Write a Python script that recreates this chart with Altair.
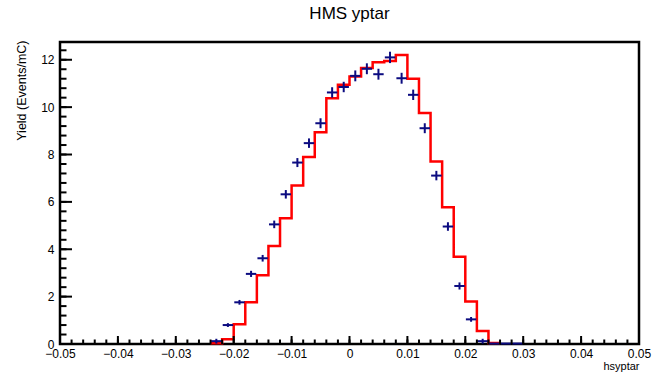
import altair as alt
import pandas as pd

# Red histogram (simulation), bins of width 0.002, left edges
red_left = [-0.024, -0.022, -0.020, -0.018, -0.016, -0.014, -0.012, -0.010, -0.008,
            -0.006, -0.004, -0.002, 0.000, 0.002, 0.004, 0.006, 0.008, 0.010,
            0.012, 0.014, 0.016, 0.018, 0.020, 0.022, 0.024]
red_vals = [0.03, 0.20, 0.83, 1.76, 2.90, 4.14, 5.31, 6.69, 7.89,
            8.94, 10.38, 10.94, 11.29, 11.65, 11.90, 11.95, 12.20, 11.20,
            9.75, 7.70, 5.77, 3.68, 1.79, 0.55, 0.04]
bin_width = 0.002

# Blue data points (bin centers)
pt_x = [-0.023, -0.021, -0.019, -0.017, -0.015, -0.013, -0.011, -0.009, -0.007,
        -0.005, -0.003, -0.001, 0.001, 0.003, 0.005, 0.007, 0.009, 0.011,
        0.013, 0.015, 0.017, 0.019, 0.021, 0.023, 0.025, 0.027, 0.029]
pt_y = [0.12, 0.80, 1.76, 2.96, 3.62, 5.05, 6.32, 7.66, 8.48,
        9.32, 10.62, 10.85, 11.32, 11.62, 11.39, 12.10, 11.22, 10.52,
        9.11, 7.11, 4.96, 2.45, 1.04, 0.12, 0.02, 0.02, 0.02]
pt_err = [0.10, 0.08, 0.10, 0.13, 0.14, 0.16, 0.18, 0.19, 0.20,
          0.21, 0.22, 0.22, 0.23, 0.23, 0.23, 0.24, 0.23, 0.22,
          0.21, 0.20, 0.18, 0.15, 0.10, 0.10, 0.02, 0.02, 0.02]
x_halfbar = 0.0009

x_major = [-0.05, -0.04, -0.03, -0.02, -0.01, 0.0, 0.01, 0.02, 0.03, 0.04, 0.05]
x_minor = [round(-0.05 + 0.002 * i, 4) for i in range(51)]
y_major = [0, 2, 4, 6, 8, 10, 12]
y_minor = [round(0.4 * i, 2) for i in range(32)]

XDOM = [-0.05, 0.05]
YDOM = [0, 12.75]
FONT = "Liberation Sans"

red_df = pd.DataFrame({
    "x": red_left + [red_left[-1] + bin_width],
    "y": red_vals + [red_vals[-1]],
})
pts_df = pd.DataFrame({"x": pt_x, "y": pt_y, "e": pt_err})
pts_df["xlo"] = pts_df["x"] - x_halfbar
pts_df["xhi"] = pts_df["x"] + x_halfbar
pts_df["ylo"] = pts_df["y"] - pts_df["e"]
pts_df["yhi"] = pts_df["y"] + pts_df["e"]

xscale = alt.Scale(domain=XDOM, nice=False, zero=False)
yscale = alt.Scale(domain=YDOM, nice=False, zero=False)

x_axis = alt.Axis(values=x_major, format="~g", ticks=False, tickSize=0, domain=False,
                  grid=False, labelFlush=False, labelOverlap=False,
                  labelFont=FONT, labelFontSize=12, labelColor="black",
                  labelPadding=4, title="hsyptar", titleFont=FONT, titleFontSize=11,
                  titleFontWeight="normal", titleColor="black", titleX=579, titleY=22,
                  titleAlign="right", titleBaseline="middle")
y_axis = alt.Axis(values=y_major, ticks=False, tickSize=0, domain=False, grid=False,
                  labelFlush=False, labelOverlap=False,
                  labelFont=FONT, labelFontSize=12, labelColor="black", labelPadding=6,
                  title="Yield (Events/mC)", titleFont=FONT, titleFontSize=12.5,
                  titleFontWeight="normal", titleColor="black", titleX=-39, titleY=-2,
                  titleAngle=-90, titleAlign="right", titleBaseline="middle")

hist = alt.Chart(red_df).mark_line(interpolate="step-after", color="#ff0000",
                                   strokeWidth=2.5).encode(
    x=alt.X("x:Q", scale=xscale, axis=x_axis),
    y=alt.Y("y:Q", scale=yscale, axis=y_axis),
)

blue = "#0b0b80"
xbars = alt.Chart(pts_df).mark_rule(color=blue, strokeWidth=2).encode(
    x=alt.X("xlo:Q", scale=xscale), x2="xhi:Q", y=alt.Y("y:Q", scale=yscale))
ybars = alt.Chart(pts_df).mark_rule(color=blue, strokeWidth=2).encode(
    x=alt.X("x:Q", scale=xscale), y=alt.Y("ylo:Q", scale=yscale), y2="yhi:Q")

xmaj_df = pd.DataFrame({"x": x_major})
xmin_df = pd.DataFrame({"x": x_minor})
ymaj_df = pd.DataFrame({"y": y_major})
ymin_df = pd.DataFrame({"y": y_minor})

xmaj = alt.Chart(xmaj_df).mark_rule(color="black", strokeWidth=2).encode(
    x=alt.X("x:Q", scale=xscale), y=alt.value(302), y2=alt.value(294))
xmin = alt.Chart(xmin_df).mark_rule(color="black", strokeWidth=2).encode(
    x=alt.X("x:Q", scale=xscale), y=alt.value(302), y2=alt.value(297.5))
ymaj = alt.Chart(ymaj_df).mark_rule(color="black", strokeWidth=2).encode(
    y=alt.Y("y:Q", scale=yscale), x=alt.value(0), x2=alt.value(12))
ymin = alt.Chart(ymin_df).mark_rule(color="black", strokeWidth=2).encode(
    y=alt.Y("y:Q", scale=yscale), x=alt.value(0), x2=alt.value(6.5))

chart = alt.layer(hist, xbars, ybars, xmaj, xmin, ymaj, ymin).properties(
    width=579, height=302,
    background="white",
    title=alt.TitleParams("HMS yptar", font=FONT, fontSize=17, fontWeight="normal",
                          color="black", anchor="middle", offset=17),
    autosize=alt.AutoSizeParams(type="none"),
    padding={"left": 60, "top": 42, "right": 20, "bottom": 30},
).configure_view(stroke="#000000", strokeWidth=2.5)

chart.save("out.html", embed_options={"renderer": "svg", "actions": False})
